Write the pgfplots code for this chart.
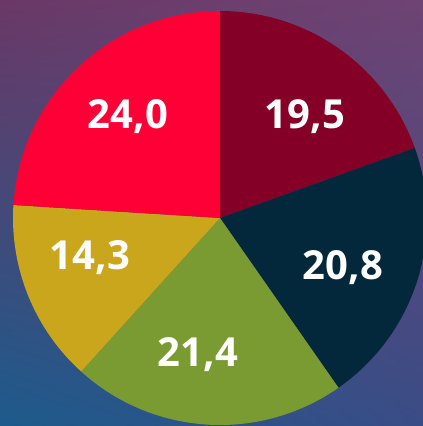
\documentclass[border=0pt]{standalone}
\usepackage{pgfplots}
\pgfplotsset{compat=1.18}
\usetikzlibrary{shadings}
\usepackage{fontspec}
\setmainfont{Open Sans}
\definecolor{c1}{HTML}{850027}
\definecolor{c2}{HTML}{04283B}
\definecolor{c3}{HTML}{7A9A32}
\definecolor{c4}{HTML}{C9A61C}
\definecolor{c5}{HTML}{FF0036}
\definecolor{bgTL}{HTML}{6A3866}
\definecolor{bgTR}{HTML}{6E4474}
\definecolor{bgBL}{HTML}{1C5B8C}
\definecolor{bgBR}{HTML}{3A4C86}
\begin{document}
\begin{tikzpicture}
\begin{axis}[
  at={(0,0)}, anchor=origin,
  width=423pt, height=426pt, scale only axis,
  xmin=0, xmax=423, ymin=0, ymax=426,
  hide axis, clip=true,
]
\addplot[draw=none, forget plot] coordinates {(0,0) (423,426)};
\shade[upper left=bgTL, upper right=bgTR, lower left=bgBL, lower right=bgBR]
  (axis cs:0,0) rectangle (axis cs:423,426);
\gdef\cum{90}
\foreach \v/\c in {19.5/c1, 20.8/c2, 21.4/c3, 14.3/c4, 24.0/c5} {
  \pgfmathsetmacro\a{\cum}
  \pgfmathsetmacro\b{\cum - 3.6*\v}
  \edef\tmp{\noexpand\fill[\c] (axis cs:220,208) -- ++(\a:207pt) arc[start angle=\a, end angle=\b, radius=207pt] -- cycle;}
  \tmp
  \global\let\cum\b
}
\begin{scope}[every node/.style={text=white, font=\bfseries\fontsize{40}{48}\selectfont}]
\node at (axis cs:305,309) {19,5};
\node at (axis cs:343,158) {20,8};
\node at (axis cs:198,71) {21,4};
\node at (axis cs:90,168) {14,3};
\node at (axis cs:128,309) {24,0};
\end{scope}
\end{axis}
\pgfresetboundingbox
\path[use as bounding box] (0,0) rectangle (423pt,426pt);
\end{tikzpicture}
\end{document}
